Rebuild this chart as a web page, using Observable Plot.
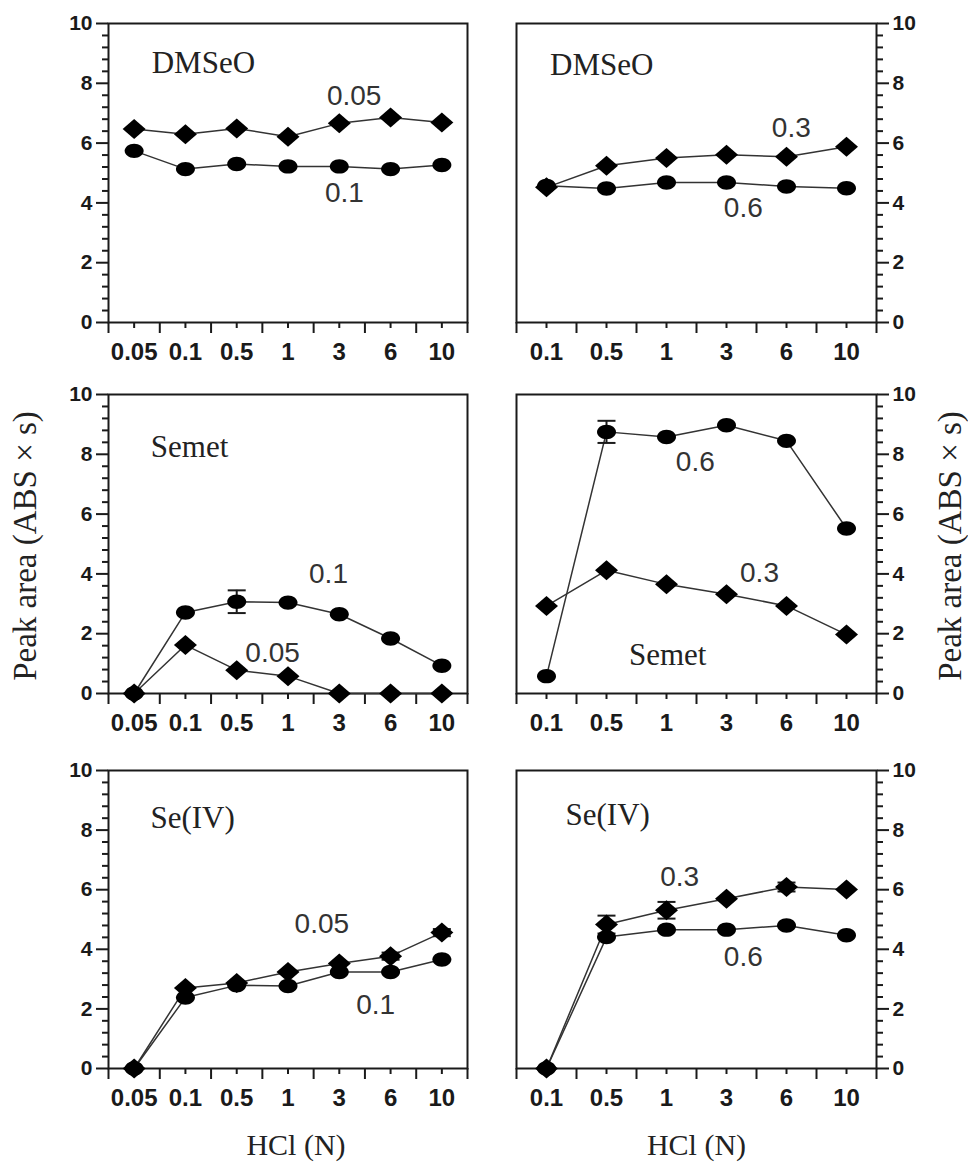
<!DOCTYPE html>
<html><head><meta charset="utf-8">
<script src="https://cdn.jsdelivr.net/npm/d3@7"></script>
<script src="https://cdn.jsdelivr.net/npm/@observablehq/plot@0.6"></script>
<style>
body{margin:0;background:#fff;}
#chart{position:relative;width:968px;height:1164px;overflow:hidden;background:#fff;}
#chart svg{position:absolute;overflow:visible;}
</style></head><body><div id="chart"></div>
<script>
// ---- categories (HCl, N) ----
const hclLeft = ["0.05", "0.1", "0.5", "1", "3", "6", "10"];
const hclRight = ["0.1", "0.5", "1", "3", "6", "10"];
const yTicks = [0, 2, 4, 6, 8, 10];

// ---- DMSeO ----
const dmseoL_005 = [6.47, 6.30, 6.49, 6.21, 6.66, 6.86, 6.69];
const dmseoL_01  = [5.74, 5.13, 5.30, 5.22, 5.22, 5.13, 5.27];
const dmseoR_03  = [4.52, 5.24, 5.50, 5.61, 5.54, 5.88];
const dmseoR_06  = [4.57, 4.48, 4.68, 4.68, 4.55, 4.49];

// ---- Semet ----
const semetL_01  = [0, 2.71, 3.07, 3.04, 2.65, 1.84, 0.93];
const semetL_01e = [0, 0, 0.38, 0, 0, 0, 0];
const semetL_005 = [0, 1.62, 0.78, 0.58, 0, 0, 0];
const semetR_06  = [0.58, 8.75, 8.58, 8.97, 8.45, 5.52];
const semetR_06e = [0, 0.37, 0, 0, 0, 0];
const semetR_03  = [2.93, 4.12, 3.65, 3.32, 2.93, 1.97];

// ---- Se(IV) ----
const seivL_005  = [0, 2.70, 2.87, 3.24, 3.52, 3.77, 4.56];
const seivL_005e = [0, 0, 0, 0, 0, 0.12, 0.12];
const seivL_01   = [0, 2.38, 2.79, 2.77, 3.24, 3.24, 3.66];
const seivR_03   = [0, 4.83, 5.31, 5.70, 6.09, 6.01];
const seivR_03e  = [0, 0.30, 0.28, 0, 0.15, 0];
const seivR_06   = [0, 4.41, 4.66, 4.66, 4.80, 4.47];

const yTitle = "Peak area (ABS \u00d7 s)";
const xTitle = "HCl (N)";

// ---- custom marker shapes ----
const diamondSym = {draw(c) { c.moveTo(0, -10); c.lineTo(11.5, 0); c.lineTo(0, 10); c.lineTo(-11.5, 0); c.closePath(); }};
const ellipseSym = {draw(c) {
  const rx = 9.5, ry = 7.2, k = 0.5523;
  c.moveTo(rx, 0);
  c.bezierCurveTo(rx, ry * k, rx * k, ry, 0, ry);
  c.bezierCurveTo(-rx * k, ry, -rx, ry * k, -rx, 0);
  c.bezierCurveTo(-rx, -ry * k, -rx * k, -ry, 0, -ry);
  c.bezierCurveTo(rx * k, -ry, rx, -ry * k, rx, 0);
  c.closePath();
}};
const capSym = {draw(c) { c.moveTo(-9, 0); c.lineTo(9, 0); }};

const INK = "#1a1a1a";
const SERIF = "Liberation Serif, Times New Roman, serif";
const SANS = "Liberation Sans, Arial, sans-serif";
const blank = () => "";

function panel(cfg) {
  const {cats, series, side, titleText, titlePos, labels, left, top, width, height, m} = cfg;
  const n = cats.length;
  const edges = d3.range(n + 1).map(k => k - 0.5);
  const centers = d3.range(n);
  const minor = d3.range(0, 26).map(k => k * 0.4).filter((v, k) => k % 5 !== 0);
  const marks = [
    Plot.axisY({ticks: minor, anchor: side, tickSize: 6, strokeWidth: 2, stroke: INK, tickFormat: blank, label: null}),
    Plot.axisY({ticks: yTicks, anchor: side, tickSize: 12, tickPadding: 4, strokeWidth: 2, stroke: INK,
      tickFormat: d3.format("d"), fontSize: 21, fontWeight: "bold", fontFamily: SANS, fill: INK, label: null}),
    Plot.axisX({ticks: edges, anchor: "bottom", tickSize: 11, strokeWidth: 2, stroke: INK, tickFormat: blank, label: null}),
    Plot.axisX({ticks: centers, anchor: "bottom", tickSize: 6, tickPadding: 14, strokeWidth: 2, stroke: INK,
      tickFormat: i => cats[i], fontSize: 24, fontWeight: "bold", fontFamily: SANS, fill: INK, label: null}),
    Plot.frame({stroke: INK, strokeWidth: 2})
  ];
  for (const s of series) {
    const rows = s.values.map((v, i) => ({i, v, e: s.err ? s.err[i] : 0}));
    marks.push(Plot.line(rows, {x: "i", y: "v", stroke: "#333", strokeWidth: 1.5}));
    s.rows = rows;
  }
  for (const s of series) {
    const eb = s.rows.filter(d => d.e > 0);
    if (eb.length) {
      marks.push(Plot.ruleX(eb, {x: "i", y1: d => d.v - d.e, y2: d => d.v + d.e, stroke: INK, strokeWidth: 2}));
      marks.push(Plot.dot(eb, {x: "i", y: d => d.v + d.e, symbol: capSym, stroke: INK, strokeWidth: 2, fill: "none"}));
      marks.push(Plot.dot(eb, {x: "i", y: d => d.v - d.e, symbol: capSym, stroke: INK, strokeWidth: 2, fill: "none"}));
    }
    marks.push(Plot.dot(s.rows, {x: "i", y: "v", symbol: s.shape === "diamond" ? diamondSym : ellipseSym, fill: "#000", stroke: "none"}));
  }
  marks.push(Plot.text([titleText], {x: () => titlePos[0], y: () => titlePos[1], text: d => d,
    fontFamily: SERIF, fontSize: 31, fill: "#222", letterSpacing: 1}));
  marks.push(Plot.text(labels, {x: d => d.x, y: d => d.y, text: d => d.text,
    fontFamily: SANS, fontSize: 28, fill: "#333"}));
  if (cfg.yLabel) {
    marks.push(Plot.text([yTitle], {frameAnchor: side, dx: side === "left" ? -83 : 74, dy: 2, rotate: -90,
      textAnchor: "middle", lineAnchor: "middle",
      text: d => d, fontFamily: SERIF, fontSize: 33, fill: "#222"}));
  }
  if (cfg.xLabel) {
    marks.push(Plot.text([xTitle], {frameAnchor: "bottom", dy: 77, dx: cfg.xLabelDx || 0,
      textAnchor: "middle", lineAnchor: "middle",
      text: d => d, fontFamily: SERIF, fontSize: 30, fill: "#222", letterSpacing: 1}));
  }
  const svg = Plot.plot({
    width, height,
    marginLeft: m[0], marginRight: m[1], marginTop: m[2], marginBottom: m[3],
    x: {type: "linear", domain: [-0.5, n - 0.5]},
    y: {domain: [0, 10]},
    style: {background: "transparent", color: INK, overflow: "visible"},
    marks
  });
  svg.style.left = left + "px";
  svg.style.top = top + "px";
  document.getElementById("chart").appendChild(svg);
}

const L = {left: 0, width: 484, ml: 108, mr: 17, cats: hclLeft, side: "left"};
const R = {left: 484, width: 484, ml: 32, mr: 92, cats: hclRight, side: "right"};
const rows = [
  {top: 0, height: 370, mt: 23, mb: 48},
  {top: 370, height: 380, mt: 24, mb: 57},
  {top: 750, height: 414, mt: 20, mb: 96}
];
function mk(col, row, extra) {
  panel(Object.assign({cats: col.cats, side: col.side, left: col.left, top: row.top, width: col.width, height: row.height,
    m: [col.ml, col.mr, row.mt, row.mb]}, extra));
}

mk(L, rows[0], {
  series: [{values: dmseoL_005, shape: "diamond"}, {values: dmseoL_01, shape: "circle"}],
  titleText: "DMSeO", titlePos: [1.35, 8.67],
  labels: [{text: "0.05", x: 4.29, y: 7.58}, {text: "0.1", x: 4.10, y: 4.34}]
});
mk(R, rows[0], {
  series: [{values: dmseoR_03, shape: "diamond"}, {values: dmseoR_06, shape: "circle"}],
  titleText: "DMSeO", titlePos: [0.92, 8.62],
  labels: [{text: "0.3", x: 4.08, y: 6.50}, {text: "0.6", x: 3.28, y: 3.84}]
});
mk(L, rows[1], {
  series: [{values: semetL_01, err: semetL_01e, shape: "circle"}, {values: semetL_005, shape: "diamond"}],
  titleText: "Semet", titlePos: [1.08, 8.24],
  labels: [{text: "0.1", x: 3.79, y: 3.99}, {text: "0.05", x: 2.70, y: 1.35}],
  yLabel: true
});
mk(R, rows[1], {
  series: [{values: semetR_06, err: semetR_06e, shape: "circle"}, {values: semetR_03, shape: "diamond"}],
  titleText: "Semet", titlePos: [2.02, 1.28],
  labels: [{text: "0.6", x: 2.48, y: 7.74}, {text: "0.3", x: 3.55, y: 4.02}],
  yLabel: true
});
mk(L, rows[2], {
  series: [{values: seivL_005, err: seivL_005e, shape: "diamond"}, {values: seivL_01, shape: "circle"}],
  titleText: "Se(IV)", titlePos: [1.14, 8.42],
  labels: [{text: "0.05", x: 3.66, y: 4.84}, {text: "0.1", x: 4.71, y: 2.12}],
  xLabel: true, xLabelDx: 8
});
mk(R, rows[2], {
  series: [{values: seivR_03, err: seivR_03e, shape: "diamond"}, {values: seivR_06, shape: "circle"}],
  titleText: "Se(IV)", titlePos: [1.02, 8.49],
  labels: [{text: "0.3", x: 2.22, y: 6.41}, {text: "0.6", x: 3.28, y: 3.73}],
  xLabel: true
});
</script></body></html>
